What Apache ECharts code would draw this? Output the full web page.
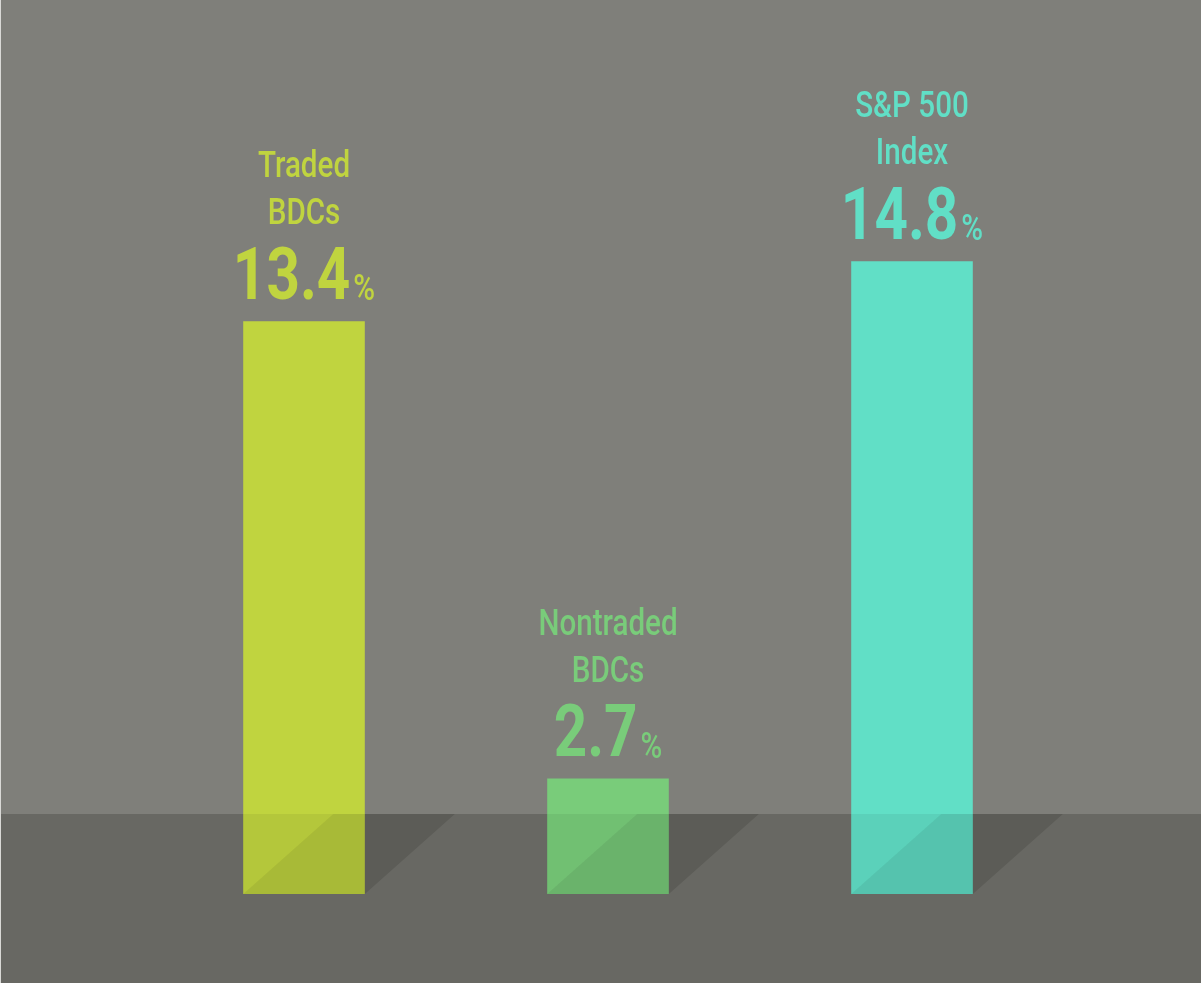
<!DOCTYPE html>
<html>
<head>
<meta charset="utf-8">
<title>BDC returns</title>
<script src="https://cdn.jsdelivr.net/npm/echarts@6/dist/echarts.min.js"></script>
<style>
  html, body { margin: 0; padding: 0; background: #7f7f7a; }
  #chart { width: 1201px; height: 983px; }
</style>
</head>
<body>
<div id="chart"></div>
<script>
// ------------------------------------------------------- //
// Data
// ------------------------------------------------------ //
var categories = ['Traded\nBDCs', 'Nontraded\nBDCs', 'S&P 500\nIndex'];
var returns = [13.4, 2.7, 14.8];

var barColors = ['#c0d43f', '#79cc7a', '#61dfc6'];
var FONT = 'Roboto';
var SX = 0.8;           // squeeze text horizontally to mimic a condensed face
var FLOOR_DEPTH = 80;   // px, floor band above the bar base
var SLANT = 90;         // px, horizontal run of the shadow diagonal

var measureCtx = document.createElement('canvas').getContext('2d');
function textWidth(str, font) {
    measureCtx.font = font;
    return measureCtx.measureText(str).width;
}

var chart = echarts.init(document.getElementById('chart'));

function renderBar(params, api) {
    var idx = params.dataIndex;
    var top = api.coord([api.value(0), api.value(1)]);
    var base = api.coord([api.value(0), 0]);
    var w = api.size([1, 0])[0] * 0.4;
    var left = top[0] - w / 2, right = top[0] + w / 2;
    var floorY = base[1] - FLOOR_DEPTH;
    var color = barColors[idx];

    // value + small percent sign, centred together over the bar
    var numStr = api.value(1).toFixed(1);
    var wNum = textWidth(numStr, 'bold 73px ' + FONT) * SX;
    var wPct = textWidth('%', '500 37px ' + FONT) * SX;
    var gap = 3;
    var x0 = top[0] - (wNum + gap + wPct) / 2;

    return {
        type: 'group',
        children: [
            // cast shadow on the floor
            {type: 'polygon', shape: {points: [[right, floorY], [right + SLANT, floorY], [right, base[1]]]},
             style: {fill: '#5c5c57'}},
            // bar body
            {type: 'rect', shape: {x: left, y: top[1], width: w, height: base[1] - top[1]},
             style: {fill: color}},
            // floor part of the bar: light triangle + darker rest
            {type: 'polygon', shape: {points: [[left, floorY], [left + SLANT, floorY], [left, base[1]]]},
             style: {fill: 'rgba(0,0,0,0.06)'}},
            {type: 'polygon', shape: {points: [[left + SLANT, floorY], [right, floorY], [right, base[1]], [left, base[1]]]},
             style: {fill: 'rgba(0,0,0,0.12)'}},
            // value
            {type: 'text', x: x0, y: top[1] - 4.4, scaleX: SX,
             style: {text: numStr, align: 'left', verticalAlign: 'bottom',
                     fontFamily: FONT, fontWeight: 'bold', fontSize: 73, fill: color}},
            {type: 'text', x: x0 + wNum + gap, y: top[1] - 11.6, scaleX: SX,
             style: {text: '%', align: 'left', verticalAlign: 'bottom',
                     fontFamily: FONT, fontWeight: 500, fontSize: 37, fill: color}},
            // category name
            {type: 'text', x: top[0], y: top[1] - 82.6, scaleX: SX,
             style: {text: categories[idx], align: 'center', verticalAlign: 'bottom',
                     fontFamily: FONT, fontWeight: 500, fontSize: 37, lineHeight: 47, fill: color}}
        ]
    };
}

var option = {
    backgroundColor: '#7f7f7a',
    animation: false,
    grid: {left: 152, right: 137, top: 39, bottom: 89},
    xAxis: {
        type: 'category',
        data: categories,
        show: false
    },
    yAxis: {
        type: 'value',
        min: 0,
        max: 20,
        show: false
    },
    graphic: [
        {type: 'rect', z: -10, shape: {x: 0, y: 983 - 89 - FLOOR_DEPTH, width: 1201, height: 89 + FLOOR_DEPTH},
         style: {fill: '#686863'}},
        {type: 'rect', z: 10, shape: {x: 0, y: 0, width: 1, height: 983}, style: {fill: '#d9d9d6'}}
    ],
    series: [{
        type: 'custom',
        renderItem: renderBar,
        data: returns.map(function (v, i) { return [i, v]; })
    }]
};
chart.setOption(option);

window.addEventListener('resize', function () {
    chart.resize();
});
</script>
</body>
</html>
